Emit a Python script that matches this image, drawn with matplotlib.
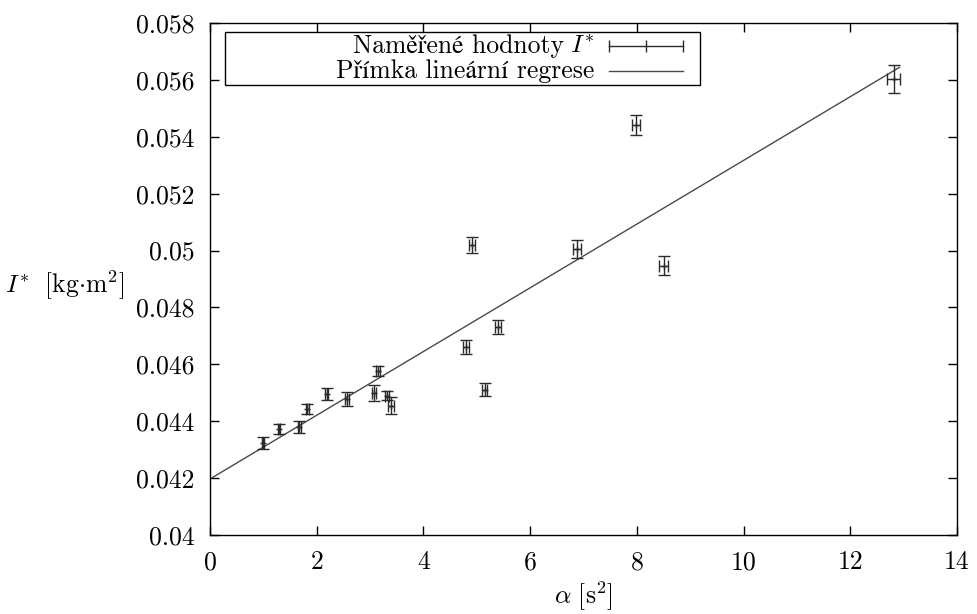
import numpy as np
import matplotlib
matplotlib.use('Agg')
import matplotlib.pyplot as plt
from matplotlib.patches import Rectangle
from matplotlib.lines import Line2D

# ---- data ----
alpha = [0.99, 1.29, 1.67, 1.82, 2.19, 2.57, 3.07, 3.15, 3.32, 3.39,
         4.80, 4.91, 5.15, 5.40, 6.88, 7.99, 8.50, 12.81]
I_star = [0.04323, 0.04373, 0.04380, 0.04443, 0.04496, 0.04478, 0.04499,
          0.04577, 0.04489, 0.04454, 0.04661, 0.05020, 0.04510, 0.04731,
          0.05006, 0.05441, 0.04947, 0.05603]
I_err = [0.00020, 0.00018, 0.00022, 0.00019, 0.00020, 0.00023, 0.00027,
         0.00018, 0.00016, 0.00030, 0.00025, 0.00028, 0.00023, 0.00026,
         0.00032, 0.00035, 0.00033, 0.00050]
alpha_err = [0.02, 0.02, 0.03, 0.03, 0.03, 0.04, 0.04, 0.04, 0.04, 0.05,
             0.05, 0.05, 0.05, 0.06, 0.07, 0.075, 0.08, 0.125]
fit_intercept = 0.04197
fit_slope = 0.00112
fit_range = [0.0, 12.92]

xticks = [0, 2, 4, 6, 8, 10, 12, 14]
yticks = [0.04, 0.042, 0.044, 0.046, 0.048, 0.05, 0.052, 0.054, 0.056, 0.058]
ytick_labels = ['0.04', '0.042', '0.044', '0.046', '0.048', '0.05',
                '0.052', '0.054', '0.056', '0.058']
label_meas_text = 'Naměřené hodnoty'
label_meas_sym = '$I^{*}$'
label_fit = 'Přímka lineární regrese'

# ---- style ----
plt.rcParams['font.family'] = ['cmr10', 'STIXGeneral', 'DejaVu Serif']
plt.rcParams['mathtext.fontset'] = 'cm'
plt.rcParams['axes.formatter.use_mathtext'] = True
FS = 18.5

fig = plt.figure(figsize=(9.78, 6.14), dpi=100)
ax = fig.add_axes([210/978, 1-535/614, 747/978, 512/614])

fx = np.array(fit_range)
fy = fit_intercept + fit_slope * fx
ax.plot(fx, fy, color='#4a4a4a', lw=1.0, zorder=2)

ax.errorbar(alpha, I_star, yerr=I_err, xerr=alpha_err, fmt='+', ms=5,
            color='#2a2a2a', ecolor='#2a2a2a', elinewidth=1.0,
            capsize=4.0, capthick=1.0, mew=1.0, zorder=3)

ax.set_xlim(0, 14)
ax.set_ylim(0.04, 0.058)
ax.set_xticks(xticks, [str(t) for t in xticks])
ax.set_yticks(yticks, ytick_labels)
ax.tick_params(direction='in', length=6.5, width=1.0, top=True, right=True,
               labelsize=FS, pad=11)
for s in ax.spines.values():
    s.set_linewidth(1.0)

ax.set_ylabel(r'$I^{*}\ \ [\mathrm{kg{\cdot}m^{2}}]$', rotation=0, fontsize=FS,
              ha='right', va='baseline')
ax.yaxis.set_label_coords(-0.114, 0.473)
ax.set_xlabel(r'$\alpha\ [\mathrm{s}^{2}]$', fontsize=FS, va='baseline')
ax.xaxis.set_label_coords(0.5, -0.135)

# ---- legend (gnuplot style: text right-aligned, sample on the right) ----
tr = ax.transAxes
ax.add_patch(Rectangle((0.020, 0.879), 0.636, 0.103, transform=tr,
                       fill=True, facecolor='white', edgecolor='black',
                       lw=1.0, zorder=5))
t_sym = ax.text(0.514, 0.941, label_meas_sym, transform=tr, ha='right',
                va='baseline', fontsize=FS, zorder=6)
ax.annotate(label_meas_text, xy=(0, 0.941), xycoords=(t_sym, tr),
            xytext=(-4.5, 0), textcoords='offset points',
            ha='right', va='baseline', fontsize=FS, zorder=6)
ax.text(0.514, 0.893, label_fit, transform=tr, ha='right', va='baseline',
        fontsize=FS, zorder=6)
hx0, hx1 = 0.534, 0.633
hy1, hy2 = 0.956, 0.907
ax.add_line(Line2D([hx0, hx1], [hy1, hy1], transform=tr, color='#2a2a2a',
                   lw=1.0, zorder=6))
ax.add_line(Line2D([hx0, (hx0+hx1)/2, hx1], [hy1]*3, transform=tr,
                   ls='none', marker='|', ms=8, mew=1.0, color='#2a2a2a',
                   zorder=6))
ax.add_line(Line2D([hx0, hx1], [hy2, hy2], transform=tr, color='#4a4a4a',
                   lw=1.0, zorder=6))

fig.savefig('out.png', dpi=100)
